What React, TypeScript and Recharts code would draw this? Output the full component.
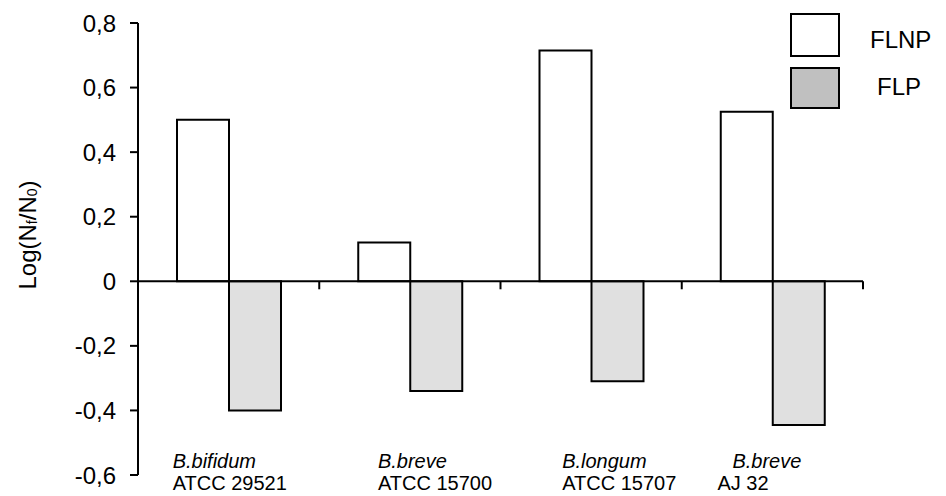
import { BarChart, Bar, XAxis, YAxis, ReferenceLine } from "recharts";

const species = ["B.bifidum", "B.breve", "B.longum", "B.breve"];
const strains = ["ATCC 29521", "ATCC 15700", "ATCC 15707", "AJ 32"];
const flnp = [0.5, 0.12, 0.715, 0.525];
const flp = [-0.4, -0.34, -0.31, -0.445];
const yTicks = [-0.6, -0.4, -0.2, 0, 0.2, 0.4, 0.6, 0.8];
const seriesNames = ["FLNP", "FLP"];

const data = species.map((s, i) => ({
  key: i,
  species: s,
  strain: strains[i],
  FLNP: flnp[i],
  FLP: flp[i],
}));

// horizontal nudges of the two-line category labels (species, strain)
const labelShift = [
  [-56, -56],
  [-32, -32],
  [-29, -29],
  [-40, -55],
];

const FONT = "'Liberation Sans', Arial, sans-serif";

function CategoryTick(props: any) {
  const { x, y, payload } = props;
  const i = payload.value as number;
  const [dxA, dxB] = labelShift[i];
  return (
    <g fontFamily={FONT} fontSize={20} fill="#000">
      <text x={x + dxA} y={y - 7} fontStyle="italic" textAnchor="start">
        {species[i]}
      </text>
      <text x={x + dxB} y={y + 15} textAnchor="start">
        {strains[i]}
      </text>
    </g>
  );
}

// zero line with tick marks on the category boundaries
function ZeroAxis(props: any) {
  const { x1, y1, x2 } = props;
  const n = data.length;
  const step = (x2 - x1) / n;
  const marks = [];
  for (let k = 1; k <= n; k++) {
    const xx = x1 + k * step;
    marks.push(<line key={k} x1={xx} y1={y1} x2={xx} y2={y1 + 8} stroke="#000" strokeWidth={2} />);
  }
  return (
    <g>
      <line x1={x1} y1={y1} x2={x2} y2={y1} stroke="#000" strokeWidth={2} />
      {marks}
    </g>
  );
}

function YLabel(props: any) {
  const { viewBox } = props;
  const cx = viewBox.x - 31;
  const cy = viewBox.y + viewBox.height / 2 - 14;
  return (
    <text
      transform={`translate(${cx},${cy}) rotate(-90)`}
      textAnchor="middle"
      dominantBaseline="central"
      fontFamily={FONT}
      fontSize={24}
      fill="#000"
    >
      Log(N
      <tspan fontSize={14} dy={5}>f</tspan>
      <tspan dy={-5}>/N</tspan>
      <tspan fontSize={14} dy={5}>0</tspan>
      <tspan dy={-5}>)</tspan>
    </text>
  );
}

const legendFills = ["#ffffff", "#c0c0c0"];

function LegendBox() {
  return (
    <div style={{ position: "absolute", left: 0, top: 0, fontFamily: FONT, fontSize: 24, lineHeight: 1 }}>
      <div style={{ position: "absolute", left: 790, top: 13, width: 46, height: 40, border: "2px solid #000", background: legendFills[0] }} />
      <span style={{ position: "absolute", left: 870, top: 28, whiteSpace: "nowrap" }}>{seriesNames[0]}</span>
      <div style={{ position: "absolute", left: 790, top: 67, width: 46, height: 38, border: "2px solid #000", background: legendFills[1] }} />
      <span style={{ position: "absolute", left: 877, top: 75, whiteSpace: "nowrap" }}>{seriesNames[1]}</span>
    </div>
  );
}

export default function App() {
  return (
    <div style={{ position: "fixed", left: 0, top: 0, width: 946, height: 496, background: "#fff" }}>
      <BarChart
        width={946}
        height={496}
        data={data}
        margin={{ top: 23, right: 83, bottom: 20, left: 58 }}
        barGap={0}
        barSize={52}
      >
        <XAxis
          dataKey="key"
          height={1}
          tickSize={0}
          tickMargin={0}
          axisLine={false}
          tickLine={false}
          tick={<CategoryTick />}
          interval={0}
        />
        <YAxis
          width={80}
          type="number"
          domain={[-0.6, 0.8]}
          ticks={yTicks}
          interval={0}
          tickSize={8}
          tickMargin={14}
          axisLine={{ stroke: "#000", strokeWidth: 2 }}
          tickLine={{ stroke: "#000", strokeWidth: 2 }}
          tick={{ fill: "#000", fontSize: 24, fontFamily: FONT }}
          tickFormatter={(v: number) => (v === 0 ? "0" : v.toFixed(1).replace(".", ","))}
          label={<YLabel />}
        />
        <ReferenceLine y={0} shape={<ZeroAxis />} ifOverflow="visible" />
        <Bar dataKey="FLNP" name={seriesNames[0]} fill="#ffffff" stroke="#000" strokeWidth={2} isAnimationActive={false} />
        <Bar dataKey="FLP" name={seriesNames[1]} fill="#e0e0e0" stroke="#000" strokeWidth={2} isAnimationActive={false} />
      </BarChart>
      <LegendBox />
    </div>
  );
}
